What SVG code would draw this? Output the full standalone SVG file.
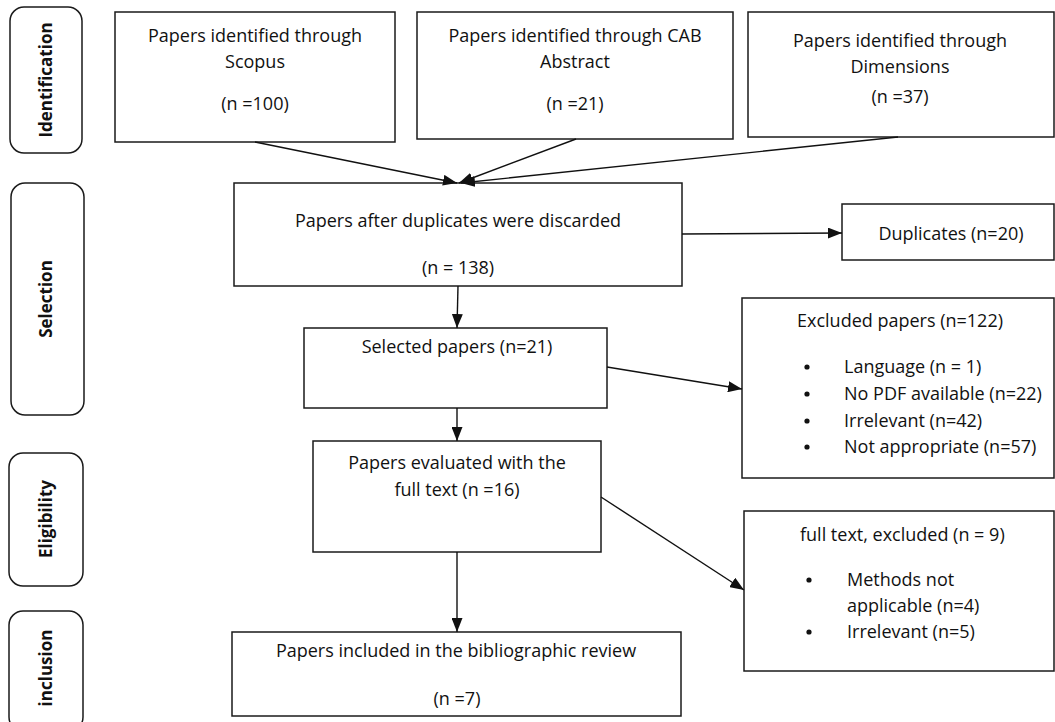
<svg xmlns="http://www.w3.org/2000/svg" width="1055" height="722" viewBox="0 0 1055 722">
<style>
.box{fill:#fff;stroke:#1a1a1a;stroke-width:1.5}
.phase{fill:#fff;stroke:#1a1a1a;stroke-width:1.5}
.t{font-family:"Open Sans","Liberation Sans",sans-serif;font-size:18px;fill:#111}
.c{text-anchor:middle}
.p{font-family:"Open Sans","Liberation Sans",sans-serif;font-size:17px;font-weight:bold;fill:#111;text-anchor:middle}
.ln{stroke:#111;stroke-width:1.4;fill:none}
</style>
<defs>
<marker id="ah" viewBox="0 0 14 11" refX="14" refY="5.5" markerWidth="14" markerHeight="11" markerUnits="userSpaceOnUse" orient="auto">
<path d="M0,0 L14,5.5 L0,11 Z" fill="#111"/>
</marker>
</defs>
<rect width="1055" height="722" fill="#fff"/>

<g id="phase-identification">
<rect class="phase" x="10" y="7" width="72" height="146" rx="14"/>
<text class="p" transform="translate(52,80) rotate(-90)">Identification</text>
</g>
<g id="phase-selection">
<rect class="phase" x="11" y="183" width="73" height="232" rx="14"/>
<text class="p" transform="translate(52,299) rotate(-90)">Selection</text>
</g>
<g id="phase-eligibility">
<rect class="phase" x="9" y="453" width="74" height="133" rx="14"/>
<text class="p" transform="translate(52,519) rotate(-90)">Eligibility</text>
</g>
<g id="phase-inclusion">
<rect class="phase" x="9" y="611" width="74" height="120" rx="14"/>
<text class="p" transform="translate(52,668) rotate(-90)">inclusion</text>
</g>

<g id="scopus">
<rect class="box" x="115" y="12" width="280" height="130"/>
<text class="t c" x="255" y="42">Papers identified through</text>
<text class="t c" x="255" y="68">Scopus</text>
<text class="t c" x="255" y="110">(n =100)</text>
</g>
<g id="cab">
<rect class="box" x="417" y="12" width="316" height="127"/>
<text class="t c" x="575" y="42">Papers identified through CAB</text>
<text class="t c" x="575" y="68">Abstract</text>
<text class="t c" x="575" y="110">(n =21)</text>
</g>
<g id="dimensions">
<rect class="box" x="748" y="12" width="306" height="125"/>
<text class="t c" x="900" y="47">Papers identified through</text>
<text class="t c" x="900" y="73">Dimensions</text>
<text class="t c" x="900" y="103">(n =37)</text>
</g>
<g id="after-duplicates">
<rect class="box" x="234" y="183" width="448" height="103"/>
<text class="t c" x="458" y="227">Papers after duplicates were discarded</text>
<text class="t c" x="458" y="274">(n = 138)</text>
</g>
<g id="duplicates">
<rect class="box" x="842" y="204" width="212" height="56"/>
<text class="t c" x="951" y="240">Duplicates (n=20)</text>
</g>
<g id="selected">
<rect class="box" x="304" y="328" width="303" height="80"/>
<text class="t c" x="457" y="353">Selected papers (n=21)</text>
</g>
<g id="excluded">
<rect class="box" x="742" y="298" width="312" height="180"/>
<text class="t" x="797" y="327">Excluded papers (n=122)</text>
<circle cx="807" cy="367" r="2.6" fill="#111"/>
<circle cx="807" cy="394" r="2.6" fill="#111"/>
<circle cx="807" cy="421" r="2.6" fill="#111"/>
<circle cx="807" cy="447" r="2.6" fill="#111"/>
<text class="t" x="844" y="373">Language (n = 1)</text>
<text class="t" x="844" y="400">No PDF available (n=22)</text>
<text class="t" x="844" y="427">Irrelevant (n=42)</text>
<text class="t" x="844" y="453">Not appropriate (n=57)</text>
</g>
<g id="evaluated">
<rect class="box" x="313" y="441" width="288" height="111"/>
<text class="t c" x="457" y="469">Papers evaluated with the</text>
<text class="t c" x="457" y="496">full text (n =16)</text>
</g>
<g id="fulltext-excluded">
<rect class="box" x="744" y="511" width="310" height="160"/>
<text class="t" x="800" y="541">full text, excluded (n = 9)</text>
<circle cx="809" cy="580" r="2.6" fill="#111"/>
<circle cx="809" cy="632" r="2.6" fill="#111"/>
<text class="t" x="847" y="586">Methods not</text>
<text class="t" x="847" y="612">applicable (n=4)</text>
<text class="t" x="847" y="638">Irrelevant (n=5)</text>
</g>
<g id="included">
<rect class="box" x="232" y="632" width="449" height="84"/>
<text class="t c" x="456" y="657">Papers included in the bibliographic review</text>
<text class="t c" x="457" y="705">(n =7)</text>
</g>

<g id="connectors">
<line class="ln" x1="255" y1="142" x2="457" y2="183" marker-end="url(#ah)"/>
<line class="ln" x1="576" y1="139" x2="459" y2="183" marker-end="url(#ah)"/>
<line class="ln" x1="898" y1="137" x2="461" y2="183" marker-end="url(#ah)"/>
<line class="ln" x1="682" y1="234" x2="842" y2="233" marker-end="url(#ah)"/>
<line class="ln" x1="458" y1="286" x2="457" y2="328" marker-end="url(#ah)"/>
<line class="ln" x1="607" y1="367" x2="742" y2="389" marker-end="url(#ah)"/>
<line class="ln" x1="457" y1="408" x2="457" y2="441" marker-end="url(#ah)"/>
<line class="ln" x1="457" y1="552" x2="457" y2="632" marker-end="url(#ah)"/>
<line class="ln" x1="601" y1="497" x2="744" y2="590" marker-end="url(#ah)"/>
</g>
</svg>
